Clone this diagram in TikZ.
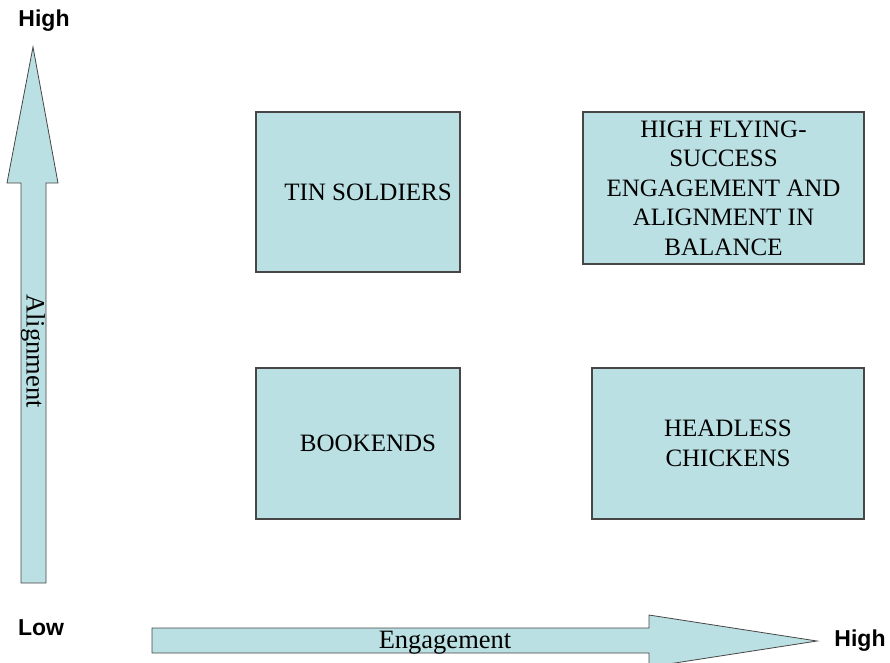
\documentclass[tikz,border=0pt]{standalone}
\usepackage{fontspec}
\setmainfont{Liberation Serif}
\newfontfamily\axisfont{Liberation Sans}
\usepackage{tikz}
\usetikzlibrary{calc}
\definecolor{quadfill}{RGB}{187,224,227}
\definecolor{quadline}{RGB}{70,70,70}

\begin{document}
\begin{tikzpicture}[x=1pt,y=-1pt,
  quad/.style={draw=quadline,line width=1.2pt,fill=quadfill,align=center,
    font=\fontsize{25}{29.5}\selectfont,inner sep=0pt},
  bigarrow/.style={draw=quadline,line width=0.8pt,fill=quadfill,line join=miter},
  endlabel/.style={font=\axisfont\bfseries\fontsize{23}{27}\selectfont,inner sep=0pt},
  axislabel/.style={font=\fontsize{26.5}{30}\selectfont,inner sep=0pt}]
\clip (0,0) rectangle (890,662);
\draw[bigarrow] (21,583) -- (21,183) -- (7,183) -- (33,47) -- (58,183) -- (46,183) -- (46,583) -- cycle;
\draw[bigarrow] (152,628) -- (649,628) -- (649,615) -- (817,641) -- (649,667) -- (649,653) -- (152,653) -- cycle;
\node[quad,minimum width=204,minimum height=160] (tin) at (358,192) {\hspace*{20pt}TIN SOLDIERS};
\node[quad,minimum width=281,minimum height=152] (fly) at (723.5,188)
  {HIGH FLYING-\\SUCCESS\\ENGAGEMENT AND\\ALIGNMENT IN\\BALANCE};
\node[quad,minimum width=204,minimum height=151] (book) at (358,443.5) {\hspace*{20pt}BOOKENDS};
\node[quad,minimum width=272,minimum height=151] (head) at (728,443.5) {HEADLESS\\CHICKENS};
\node[endlabel] (hightop) at (44,21) {High};
\node[endlabel] (low) at (41,628) {Low};
\node[endlabel] (highright) at (860,641) {High};
\node[axislabel,rotate=-90] (align) at (33,351) {Alignment};
\node[axislabel] (engage) at (445,643) {Engagement};
\end{tikzpicture}
\end{document}
